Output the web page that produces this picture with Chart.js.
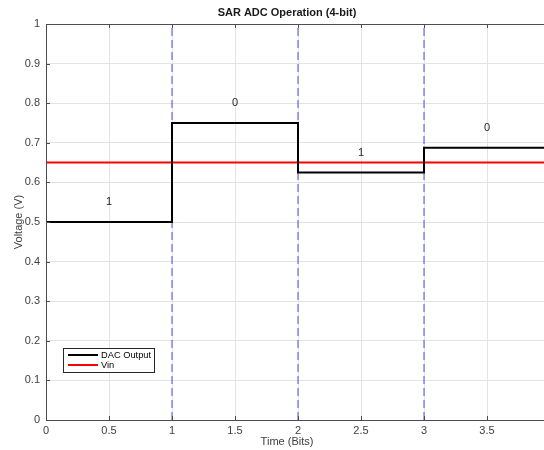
<!DOCTYPE html>
<html>
<head>
<meta charset="utf-8">
<script src="https://cdn.jsdelivr.net/npm/chart.js@4.4.1/dist/chart.umd.min.js"></script>
<style>
  html, body { margin: 0; padding: 0; background: #fff; overflow: hidden; }
  #wrap { width: 560px; height: 450px; }
</style>
</head>
<body>
<div id="wrap"><canvas id="sarChart" width="560" height="450"></canvas></div>
<script>
// bit boundaries and DAC levels
const bitTimes = [0, 1, 2, 3, 4];
const dacLevels = [0.5, 0.75, 0.625, 0.6875];
const bitDecisions = ['1', '0', '1', '0'];
const vinLevel = 0.65;
const dividerTimes = [1, 2, 3];
const xTickValues = [0, 0.5, 1, 1.5, 2, 2.5, 3, 3.5, 4];
const yTickValues = [0, 0.1, 0.2, 0.3, 0.4, 0.5, 0.6, 0.7, 0.8, 0.9, 1];

const FONT = '"Liberation Sans", Arial, sans-serif';
const AXIS = '#4d4d4d';
const TEXT = '#404040';

// step data for DAC output: each level is held over the bit that ends at the point
const dacPoints = bitTimes.map((t, i) => ({ x: t, y: dacLevels[Math.max(0, i - 1)] }));
const vinPoints = [{ x: bitTimes[0], y: vinLevel }, { x: bitTimes[bitTimes.length - 1], y: vinLevel }];

const dividerSets = dividerTimes.map(t => ({
  label: 'div' + t,
  data: [{ x: t, y: 0 }, { x: t, y: 1 }],
  borderColor: 'rgba(55,55,250,0.9)',
  borderWidth: 1,
  borderDash: [8, 4],
  pointRadius: 0,
  order: 3
}));

const decorPlugin = {
  id: 'decor',
  afterDatasetsDraw(chart) {
    const { ctx, chartArea: a, scales: { x, y } } = chart;
    ctx.save();
    // bit decision labels above each level
    ctx.fillStyle = '#222';
    ctx.font = '11px ' + FONT;
    ctx.textAlign = 'center';
    ctx.textBaseline = 'middle';
    bitDecisions.forEach((b, i) => {
      const cx = x.getPixelForValue((bitTimes[i] + bitTimes[i + 1]) / 2);
      const cy = y.getPixelForValue(dacLevels[i] + 0.05);
      ctx.fillText(b, cx, cy);
    });

    // axes box (left, bottom, top)
    ctx.strokeStyle = AXIS;
    ctx.lineWidth = 1;
    ctx.beginPath();
    ctx.moveTo(a.left + 0.5, a.top + 0.5);
    ctx.lineTo(a.right, a.top + 0.5);
    ctx.moveTo(a.left + 0.5, a.top);
    ctx.lineTo(a.left + 0.5, a.bottom + 0.5);
    ctx.lineTo(a.right, a.bottom + 0.5);
    ctx.stroke();

    // inward tick marks
    ctx.beginPath();
    xTickValues.forEach(v => {
      const px = Math.round(x.getPixelForValue(v)) + 0.5;
      ctx.moveTo(px, a.bottom); ctx.lineTo(px, a.bottom - 4);
      ctx.moveTo(px, a.top); ctx.lineTo(px, a.top + 4);
    });
    yTickValues.forEach(v => {
      const py = Math.round(y.getPixelForValue(v)) + 0.5;
      ctx.moveTo(a.left, py); ctx.lineTo(a.left + 4, py);
    });
    ctx.stroke();

    // legend box
    const lx = a.left + 17, ly = 348, lw = 91, lh = 24;
    ctx.fillStyle = '#fff';
    ctx.fillRect(lx, ly, lw, lh);
    ctx.strokeStyle = '#262626';
    ctx.strokeRect(lx + 0.5, ly + 0.5, lw, lh);
    ctx.lineWidth = 2;
    ctx.strokeStyle = '#000';
    ctx.beginPath(); ctx.moveTo(lx + 5, ly + 7); ctx.lineTo(lx + 35, ly + 7); ctx.stroke();
    ctx.strokeStyle = '#ff0000';
    ctx.beginPath(); ctx.moveTo(lx + 5, ly + 17); ctx.lineTo(lx + 35, ly + 17); ctx.stroke();
    ctx.fillStyle = '#000';
    ctx.font = '9.3px ' + FONT;
    ctx.textAlign = 'left';
    ctx.fillText('DAC Output', lx + 38, ly + 7);
    ctx.fillText('Vin', lx + 38, ly + 17);

    // title and axis labels
    ctx.fillStyle = '#1a1a1a';
    ctx.font = 'bold 11px ' + FONT;
    ctx.textAlign = 'center';
    ctx.fillText('SAR ADC Operation (4-bit)', 287, 13);
    ctx.fillStyle = TEXT;
    ctx.font = '11px ' + FONT;
    ctx.fillText('Time (Bits)', 287, 442);
    ctx.translate(19, 222);
    ctx.rotate(-Math.PI / 2);
    ctx.fillText('Voltage (V)', 0, 0);
    ctx.restore();
  }
};

new Chart(document.getElementById('sarChart'), {
  type: 'line',
  data: {
    datasets: [
      {
        label: 'DAC Output',
        data: dacPoints,
        stepped: 'after',
        borderColor: '#000',
        borderWidth: 2,
        pointRadius: 0,
        order: 1
      },
      {
        label: 'Vin',
        data: vinPoints,
        borderColor: '#ff0000',
        borderWidth: 2,
        pointRadius: 0,
        order: 2
      },
      ...dividerSets
    ]
  },
  options: {
    responsive: false,
    animation: false,
    layout: { padding: { left: 0, top: 24, right: 10, bottom: 0 } },
    plugins: { legend: { display: false }, title: { display: false }, tooltip: { enabled: false } },
    scales: {
      x: {
        type: 'linear',
        min: 0,
        max: 4,
        afterFit: s => { s.height = 30; },
        afterBuildTicks: s => { s.ticks = xTickValues.map(v => ({ value: v })); },
        grid: { color: '#e3e3e3', drawTicks: false },
        border: { display: false },
        ticks: { color: TEXT, font: { family: FONT, size: 11 }, padding: 4, maxRotation: 0, callback: v => String(v) }
      },
      y: {
        type: 'linear',
        min: 0,
        max: 1,
        afterFit: s => { s.width = 46; },
        afterBuildTicks: s => { s.ticks = yTickValues.map(v => ({ value: v })); },
        grid: { color: '#e3e3e3', drawTicks: false },
        border: { display: false },
        ticks: { color: TEXT, font: { family: FONT, size: 11 }, padding: 6, callback: v => String(v) }
      }
    }
  },
  plugins: [decorPlugin]
});
</script>
</body>
</html>
